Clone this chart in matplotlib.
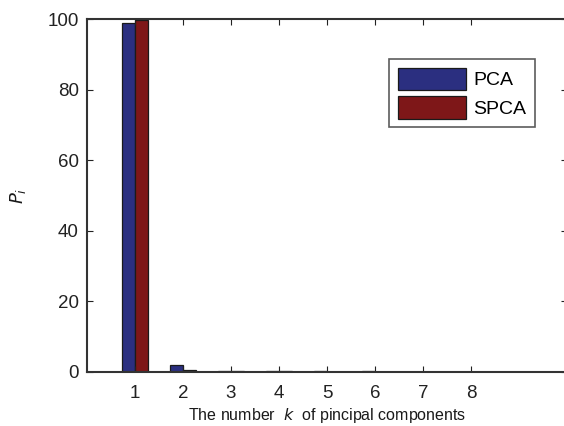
import numpy as np
import matplotlib
matplotlib.use("Agg")
import matplotlib.pyplot as plt

plt.rcParams["font.family"] = ["Liberation Sans", "DejaVu Sans"]

# principal component index and contribution rates (%)
components = [1, 2, 3, 4, 5, 6, 7, 8]
pca_values = [98.8, 2.0, 0.3, 0.2, 0.2, 0.15, 0.1, 0.1]
spca_values = [99.8, 0.6, 0.2, 0.15, 0.1, 0.1, 0.1, 0.1]
series_names = ["PCA", "SPCA"]

fig = plt.figure(figsize=(5.64, 4.26), dpi=100)
ax = fig.add_axes([87 / 564, 1 - 372 / 426, 480 / 564, 353 / 426])

x = np.array(components)
w = 0.27
ax.bar(x - w / 2, pca_values, width=w, color="#2b2f80", edgecolor="#1a1a1a",
       linewidth=0.9, label=series_names[0])
ax.bar(x + w / 2, spca_values, width=w, color="#7e1718", edgecolor="#1a1a1a",
       linewidth=0.9, label=series_names[1])

ax.set_xlim(0, 10)
ax.set_ylim(0, 100)
ax.set_xticks(components)
ax.set_yticks([0, 20, 40, 60, 80, 100])
ax.tick_params(direction="in", top=True, right=True, length=4, width=0.8,
               labelsize=13.5, pad=6, colors="#222222")
ax.tick_params(axis="x", pad=9)
for s in ax.spines.values():
    s.set_linewidth(1.5)
    s.set_color("#333333")

ax.set_xlabel("The number  $\\it{k}$  of pincipal components", fontsize=11.5,
              color="#1a1a1a", labelpad=3)
ax.set_ylabel("$\\it{P}_{\\it{i}}$", fontsize=13, color="#1a1a1a", labelpad=14)

leg = ax.legend(loc="upper left", bbox_to_anchor=(302 / 480, 1 - 40 / 353),
                fontsize=14, frameon=True, fancybox=False, handlelength=3.5,
                handleheight=1.4, handletextpad=0.4, borderpad=0.45,
                labelspacing=0.3, borderaxespad=0)
leg.get_frame().set_edgecolor("#333333")
leg.get_frame().set_linewidth(1.2)

fig.savefig("out.png", dpi=100)
